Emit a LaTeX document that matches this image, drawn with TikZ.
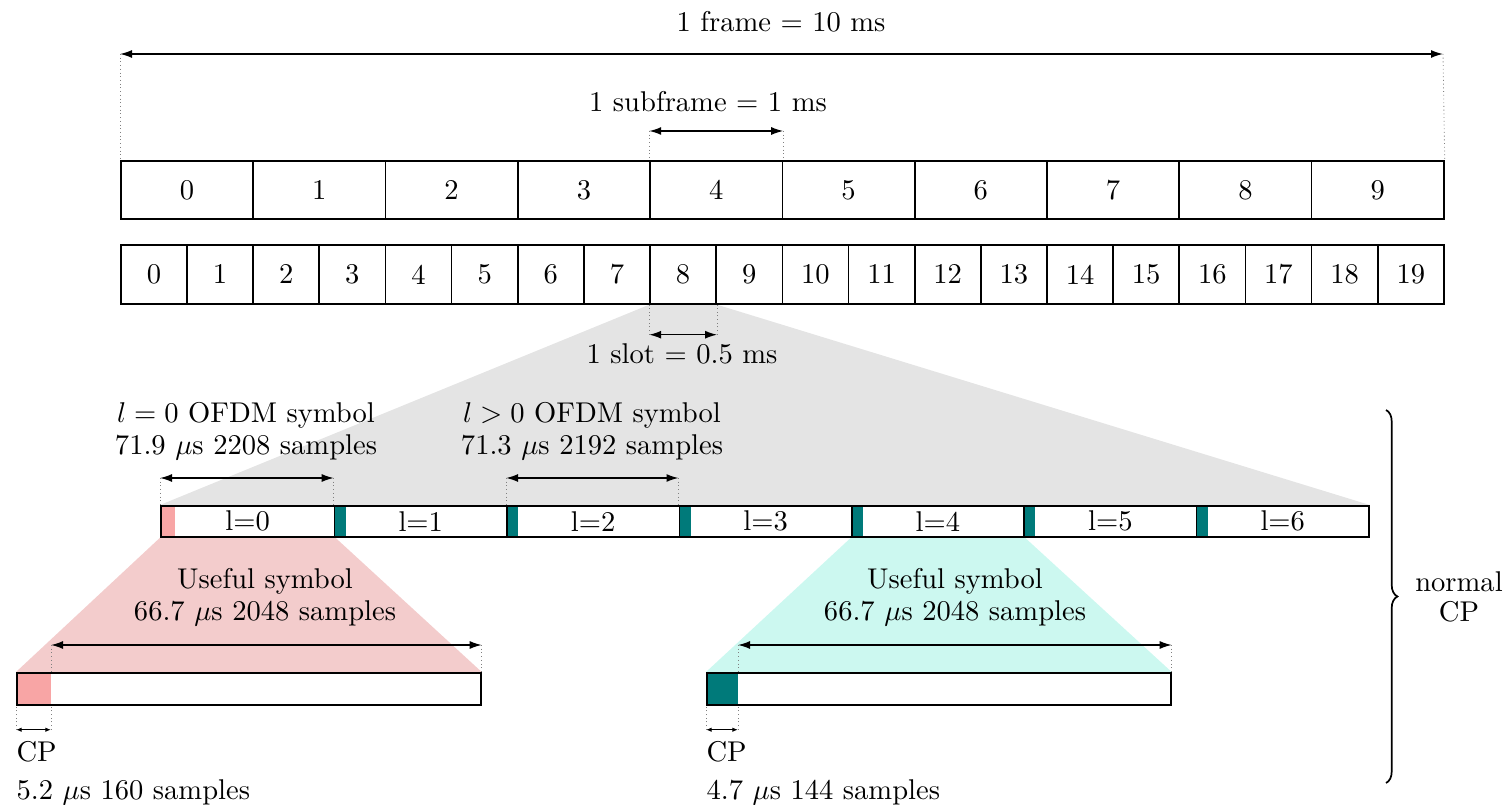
\documentclass[tikz,border=0pt]{standalone}
\usetikzlibrary{arrows.meta,backgrounds,decorations.pathreplacing,calc}
\definecolor{cpteal}{RGB}{0,122,122}
\definecolor{cppink}{RGB}{248,165,165}
\definecolor{trapink}{RGB}{243,204,204}
\definecolor{tracyan}{RGB}{204,248,240}
\definecolor{tragray}{RGB}{228,228,228}
\tikzset{
  cell/.style={draw, line width=0.6pt, rectangle, inner sep=0pt, anchor=north west},
  dim/.style={line width=0.5pt, {Latex[length=4.2pt,width=2.8pt]}-{Latex[length=4.2pt,width=2.8pt]}},
  smalldim/.style={line width=0.4pt, {Latex[length=2pt,width=1.6pt]}-{Latex[length=2pt,width=1.6pt]}},
  guide/.style={densely dotted, gray, line width=0.3pt},
  lbl/.style={inner sep=0pt}
}
\begin{document}
\begin{tikzpicture}[x=0.35pt,y=-0.35pt]
\useasboundingbox (0,0) rectangle (1507,805);
% subframes
\foreach \i in {0,...,9}
  \node[cell, minimum width=46.305pt, minimum height=20.3pt] (sf\i) at ({120+132.3*\i},160) {\i};
% slots
\foreach \i in {0,...,19}
  \node[cell, minimum width=23.1525pt, minimum height=20.65pt] (sl\i) at ({120+66.15*\i},244) {\i};
% OFDM symbols
\node[cell, minimum width=60.795pt, minimum height=10.85pt] (sym0) at (160,505) {l=0};
\foreach \k in {1,...,6}
  \node[cell, minimum width=60.34pt, minimum height=10.85pt] (sym\k) at ({333.7+172.4*(\k-1)},505) {l=\k};
% expanded symbols
\node[cell, minimum width=162.4pt, minimum height=11.2pt] (ubl) at (16,672) {};
\node[cell, minimum width=162.4pt, minimum height=11.2pt] (ubr) at (706,672) {};

\begin{pgfonlayer}{background}
  \fill[tragray] (sl8.south west) -- (sl8.south east) -- (sym6.north east) -- (sym0.north west) -- cycle;
  \fill[trapink] (sym0.south west) -- (sym0.south east) -- (ubl.north east) -- (ubl.north west) -- cycle;
  \fill[tracyan] (sym4.south west) -- (sym4.south east) -- (ubr.north east) -- (ubr.north west) -- cycle;
  \fill[cppink] (sym0.north west) rectangle ($(sym0.south west)+(15,0)$);
  \foreach \k in {1,...,6}
    \fill[cpteal] (sym\k.north west) rectangle ($(sym\k.south west)+(12,0)$);
  \fill[cppink] (ubl.north west) rectangle ($(ubl.south west)+(35,0)$);
  \fill[cpteal] (ubr.north west) rectangle ($(ubr.south west)+(32,0)$);
\end{pgfonlayer}

% frame arrow
\coordinate (fa) at (120,54);
\coordinate (fb) at (1443,54);
\draw[dim] (fa) -- (fb);
\draw[guide] (fa) -- (sf0.north west);
\draw[guide] (fb) -- (sf9.north east);
\node[lbl] (framelbl) at (781,22) {1 frame $=$ 10 ms};

% subframe arrow
\coordinate (sa) at ($(sf4.north west)+(0,-29)$);
\coordinate (sb) at ($(sf4.north east)+(0,-29)$);
\draw[dim] (sa) -- (sb);
\draw[guide] (sa) -- (sf4.north west);
\draw[guide] (sb) -- (sf4.north east);
\node[lbl] (sflbl) at (708,102) {1 subframe $=$ 1 ms};

% slot arrow
\coordinate (ta) at ($(sl8.south west)+(0,30)$);
\coordinate (tb) at ($(sl8.south east)+(0,30)$);
\draw[dim] (ta) -- (tb);
\draw[guide] (ta) -- (sl8.south west);
\draw[guide] (tb) -- (sl8.south east);
\node[lbl] (slotlbl) at (682,354) {1 slot $=$ 0.5 ms};

% l=0 symbol arrow
\coordinate (la) at ($(sym0.north west)+(0,-27)$);
\coordinate (lb) at ($(sym1.north west)+(0,-27)$);
\draw[dim] (la) -- (lb);
\draw[guide] (la) -- (sym0.north west);
\draw[guide] (lb) -- (sym1.north west);
\node[lbl] (l0a) at (246,415) {$l=0$ OFDM symbol};
\node[lbl] (l0b) at (246,447) {71.9 $\mu$s 2208 samples};

% l>0 symbol arrow
\coordinate (ma) at ($(sym2.north west)+(0,-27)$);
\coordinate (mb) at ($(sym3.north west)+(0,-27)$);
\draw[dim] (ma) -- (mb);
\draw[guide] (ma) -- (sym2.north west);
\draw[guide] (mb) -- (sym3.north west);
\node[lbl] (l1a) at (592,415) {$l>0$ OFDM symbol};
\node[lbl] (l1b) at (592,447) {71.3 $\mu$s 2192 samples};

% left useful symbol
\coordinate (ua) at ($(ubl.north west)+(35,-27)$);
\coordinate (ub) at ($(ubl.north east)+(0,-27)$);
\draw[dim] (ua) -- (ub);
\draw[guide] (ua) -- ($(ubl.north west)+(35,0)$);
\draw[guide] (ub) -- (ubl.north east);
\node[lbl] (u0a) at (265,581) {Useful symbol};
\node[lbl] (u0b) at (265,613) {66.7 $\mu$s 2048 samples};
\coordinate (ca) at ($(ubl.south west)+(0,24)$);
\coordinate (cb) at ($(ubl.south west)+(35,24)$);
\draw[smalldim] (ca) -- (cb);
\draw[guide] (ca) -- (ubl.south west);
\draw[guide] (cb) -- ($(ubl.south west)+(35,0)$);
\node[lbl, anchor=west] (cp0a) at (16,752) {CP};
\node[lbl, anchor=west] (cp0b) at (16,792) {5.2 $\mu$s 160 samples};

% right useful symbol
\coordinate (va) at ($(ubr.north west)+(32,-27)$);
\coordinate (vb) at ($(ubr.north east)+(0,-27)$);
\draw[dim] (va) -- (vb);
\draw[guide] (va) -- ($(ubr.north west)+(32,0)$);
\draw[guide] (vb) -- (ubr.north east);
\node[lbl] (u1a) at (955,581) {Useful symbol};
\node[lbl] (u1b) at (955,613) {66.7 $\mu$s 2048 samples};
\coordinate (da) at ($(ubr.south west)+(0,24)$);
\coordinate (db) at ($(ubr.south west)+(32,24)$);
\draw[smalldim] (da) -- (db);
\draw[guide] (da) -- (ubr.south west);
\draw[guide] (db) -- ($(ubr.south west)+(32,0)$);
\node[lbl, anchor=west] (cp1a) at (706,752) {CP};
\node[lbl, anchor=west] (cp1b) at (706,792) {4.7 $\mu$s 144 samples};

% brace
\coordinate (bra) at (1386,410);
\coordinate (brb) at (1386,783);
\draw[line width=0.6pt, decorate, decoration={brace, amplitude=4pt}] (bra) -- (brb);
\node[lbl] (nrm) at (1459,582) {normal};
\node[lbl] (ncp) at (1459,612) {CP};
\end{tikzpicture}
\end{document}
